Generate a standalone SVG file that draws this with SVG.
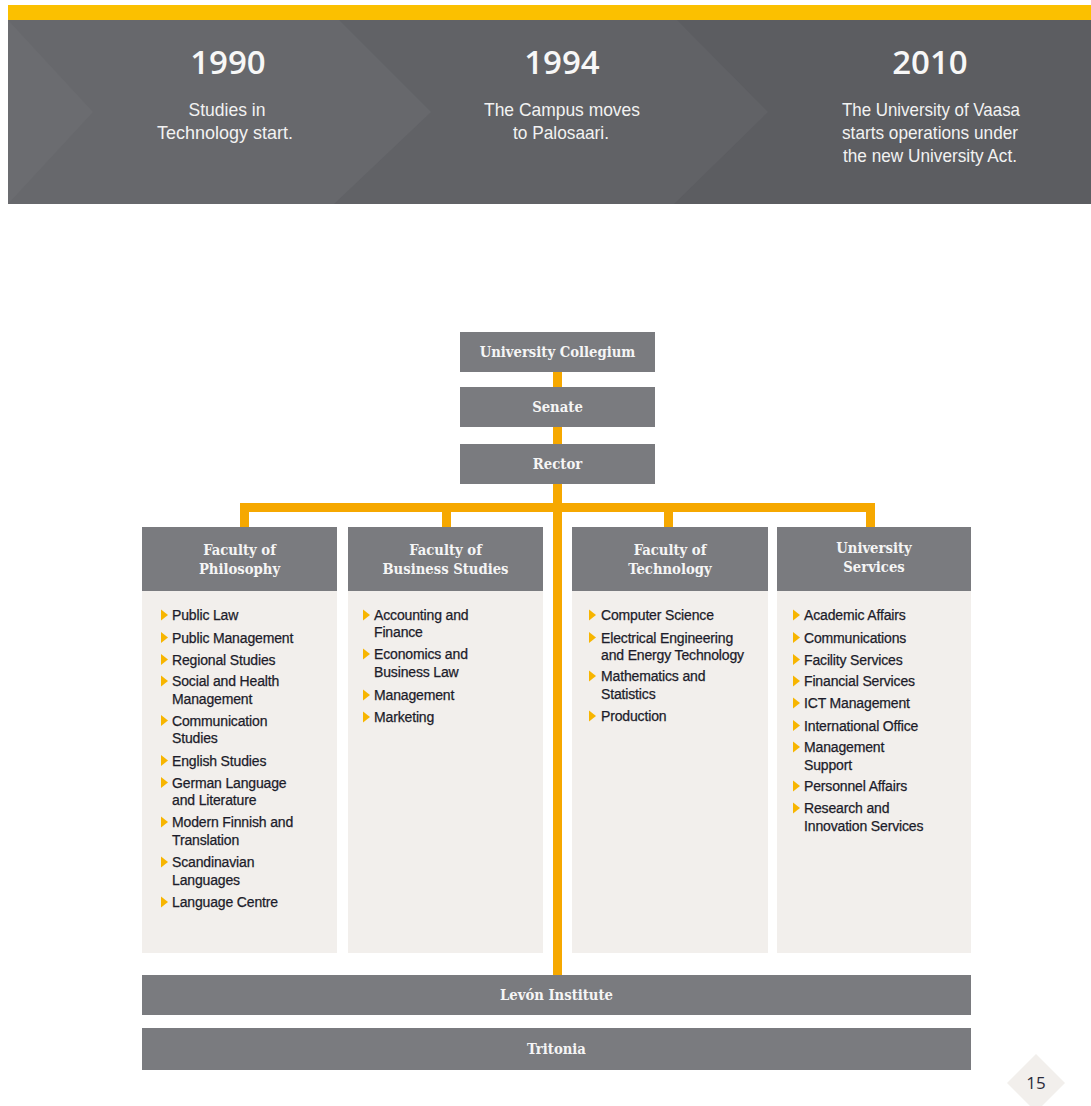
<svg xmlns="http://www.w3.org/2000/svg" width="1091" height="1106" viewBox="0 0 1091 1106">
  <style>
    .year { font-family: "Open Sans", "Liberation Sans", sans-serif; font-weight: 600; font-size: 33px; fill: #f7f7f7; text-anchor: middle; }
    .note { font-family: "Liberation Sans", Arial, sans-serif; font-size: 18.5px; fill: #f2f2f2; text-anchor: middle; }
    .box { fill: #7a7b7f; }
    .body { fill: #f2efec; }
    .lbl { font-family: "DejaVu Serif Condensed", "DejaVu Serif", serif; font-stretch: condensed; font-weight: bold; font-size: 14.7px; fill: #f5f5f5; text-anchor: middle; }
    .li { font-family: "Liberation Sans", Arial, sans-serif; font-size: 14px; fill: #1c1c2a; stroke: #1c1c2a; stroke-width: 0.25px; letter-spacing: -0.15px; }
    .wire { fill: #f6a800; }
    .bul { fill: #f7b500; }
    .pg { font-family: "Open Sans", "Liberation Sans", sans-serif; font-size: 17px; fill: #2b2b3a; text-anchor: middle; }
  </style>
  <defs>
    <path id="bullet" class="bul" d="M0,-5.5 L7,0 L0,5.5 Z"/>
  </defs>

  <!-- timeline banner -->
  <g id="timeline">
    <rect x="8" y="5" width="1083" height="15" fill="#fbc000"/>
    <rect x="8" y="20" width="1083" height="184" fill="#5c5d61"/>
    <polygon points="8,20 677,20 768,112 674,204 8,204" fill="#616266"/>
    <polygon points="8,20 339,20 431,112 334,204 8,204" fill="#67686c"/>
    <polygon points="8,20 93,112 8,204" fill="#6b6c70"/>
    <g id="t1990">
      <text class="year" x="228" y="74">1990</text>
      <text class="note" x="227" y="116" textLength="77" lengthAdjust="spacingAndGlyphs">Studies in</text>
      <text class="note" x="225" y="139" textLength="136" lengthAdjust="spacingAndGlyphs">Technology start.</text>
    </g>
    <g id="t1994">
      <text class="year" x="562" y="74">1994</text>
      <text class="note" x="562" y="116" textLength="156" lengthAdjust="spacingAndGlyphs">The Campus moves</text>
      <text class="note" x="561" y="139" textLength="96" lengthAdjust="spacingAndGlyphs">to Palosaari.</text>
    </g>
    <g id="t2010">
      <text class="year" x="930" y="74">2010</text>
      <text class="note" x="931" y="116" textLength="178" lengthAdjust="spacingAndGlyphs">The University of Vaasa</text>
      <text class="note" x="930" y="139" textLength="176" lengthAdjust="spacingAndGlyphs">starts operations under</text>
      <text class="note" x="930" y="162" textLength="174" lengthAdjust="spacingAndGlyphs">the new University Act.</text>
    </g>
  </g>

  <!-- connectors -->
  <g id="connectors">
    <rect class="wire" x="553" y="372" width="9" height="603"/>
    <rect class="wire" x="240" y="503" width="635" height="9"/>
    <rect class="wire" x="240" y="503" width="9" height="24"/>
    <rect class="wire" x="442" y="503" width="9" height="24"/>
    <rect class="wire" x="664" y="503" width="9" height="24"/>
    <rect class="wire" x="866" y="503" width="9" height="24"/>
  </g>

  <g id="collegium">
    <rect class="box" x="460" y="332" width="195" height="40"/>
    <text class="lbl" x="557.5" y="357">University Collegium</text>
  </g>
  <g id="senate">
    <rect class="box" x="460" y="387" width="195" height="40"/>
    <text class="lbl" x="557.5" y="412">Senate</text>
  </g>
  <g id="rector">
    <rect class="box" x="460" y="444" width="195" height="40"/>
    <text class="lbl" x="557.5" y="469">Rector</text>
  </g>

  <g id="philosophy">
    <rect class="box" x="142" y="527" width="195" height="64"/>
    <rect class="body" x="142" y="591" width="195" height="362"/>
    <text class="lbl" x="239.5" y="555">Faculty of</text>
    <text class="lbl" x="239.5" y="574">Philosophy</text>
    <use href="#bullet" x="161" y="615"/><text class="li" x="172" y="620">Public Law</text>
    <use href="#bullet" x="161" y="637.5"/><text class="li" x="172" y="642.5">Public Management</text>
    <use href="#bullet" x="161" y="659.5"/><text class="li" x="172" y="664.5">Regional Studies</text>
    <use href="#bullet" x="161" y="681"/><text class="li" x="172" y="686">Social and Health</text>
    <text class="li" x="172" y="703.5">Management</text>
    <use href="#bullet" x="161" y="720.5"/><text class="li" x="172" y="725.5">Communication</text>
    <text class="li" x="172" y="743">Studies</text>
    <use href="#bullet" x="161" y="760.5"/><text class="li" x="172" y="765.5">English Studies</text>
    <use href="#bullet" x="161" y="782.5"/><text class="li" x="172" y="787.5">German Language</text>
    <text class="li" x="172" y="805">and Literature</text>
    <use href="#bullet" x="161" y="822"/><text class="li" x="172" y="827">Modern Finnish and</text>
    <text class="li" x="172" y="845">Translation</text>
    <use href="#bullet" x="161" y="862"/><text class="li" x="172" y="867">Scandinavian</text>
    <text class="li" x="172" y="885">Languages</text>
    <use href="#bullet" x="161" y="902"/><text class="li" x="172" y="907">Language Centre</text>
  </g>

  <g id="business">
    <rect class="box" x="348" y="527" width="195" height="64"/>
    <rect class="body" x="348" y="591" width="195" height="362"/>
    <text class="lbl" x="445.5" y="555">Faculty of</text>
    <text class="lbl" x="445.5" y="574">Business Studies</text>
    <use href="#bullet" x="363" y="615"/><text class="li" x="374" y="620">Accounting and</text>
    <text class="li" x="374" y="637">Finance</text>
    <use href="#bullet" x="363" y="654"/><text class="li" x="374" y="659">Economics and</text>
    <text class="li" x="374" y="677">Business Law</text>
    <use href="#bullet" x="363" y="695"/><text class="li" x="374" y="700">Management</text>
    <use href="#bullet" x="363" y="717"/><text class="li" x="374" y="722">Marketing</text>
  </g>

  <g id="technology">
    <rect class="box" x="572" y="527" width="196" height="64"/>
    <rect class="body" x="572" y="591" width="196" height="362"/>
    <text class="lbl" x="670" y="555">Faculty of</text>
    <text class="lbl" x="670" y="574">Technology</text>
    <use href="#bullet" x="589" y="615"/><text class="li" x="601" y="620">Computer Science</text>
    <use href="#bullet" x="589" y="637.5"/><text class="li" x="601" y="642.5">Electrical Engineering</text>
    <text class="li" x="601" y="659.5">and Energy Technology</text>
    <use href="#bullet" x="589" y="676"/><text class="li" x="601" y="681">Mathematics and</text>
    <text class="li" x="601" y="699">Statistics</text>
    <use href="#bullet" x="589" y="716"/><text class="li" x="601" y="721">Production</text>
  </g>

  <g id="services">
    <rect class="box" x="777" y="527" width="194" height="64"/>
    <rect class="body" x="777" y="591" width="194" height="362"/>
    <text class="lbl" x="874" y="553">University</text>
    <text class="lbl" x="874" y="572">Services</text>
    <use href="#bullet" x="793" y="615"/><text class="li" x="804" y="620">Academic Affairs</text>
    <use href="#bullet" x="793" y="637.5"/><text class="li" x="804" y="642.5">Communications</text>
    <use href="#bullet" x="793" y="659.5"/><text class="li" x="804" y="664.5">Facility Services</text>
    <use href="#bullet" x="793" y="681"/><text class="li" x="804" y="686">Financial Services</text>
    <use href="#bullet" x="793" y="703"/><text class="li" x="804" y="708">ICT Management</text>
    <use href="#bullet" x="793" y="725.5"/><text class="li" x="804" y="730.5">International Office</text>
    <use href="#bullet" x="793" y="747"/><text class="li" x="804" y="752">Management</text>
    <text class="li" x="804" y="769.5">Support</text>
    <use href="#bullet" x="793" y="786"/><text class="li" x="804" y="791">Personnel Affairs</text>
    <use href="#bullet" x="793" y="808"/><text class="li" x="804" y="813">Research and</text>
    <text class="li" x="804" y="831">Innovation Services</text>
  </g>

  <g id="levon">
    <rect class="box" x="142" y="975" width="829" height="40"/>
    <text class="lbl" x="556.5" y="1000">Levón Institute</text>
  </g>
  <g id="tritonia">
    <rect class="box" x="142" y="1028" width="829" height="42"/>
    <text class="lbl" x="556.5" y="1054">Tritonia</text>
  </g>

  <g id="page-number">
    <polygon points="1036,1054 1065,1083 1036,1112 1007,1083" fill="#f2efec"/>
    <text class="pg" x="1036" y="1089">15</text>
  </g>
</svg>
